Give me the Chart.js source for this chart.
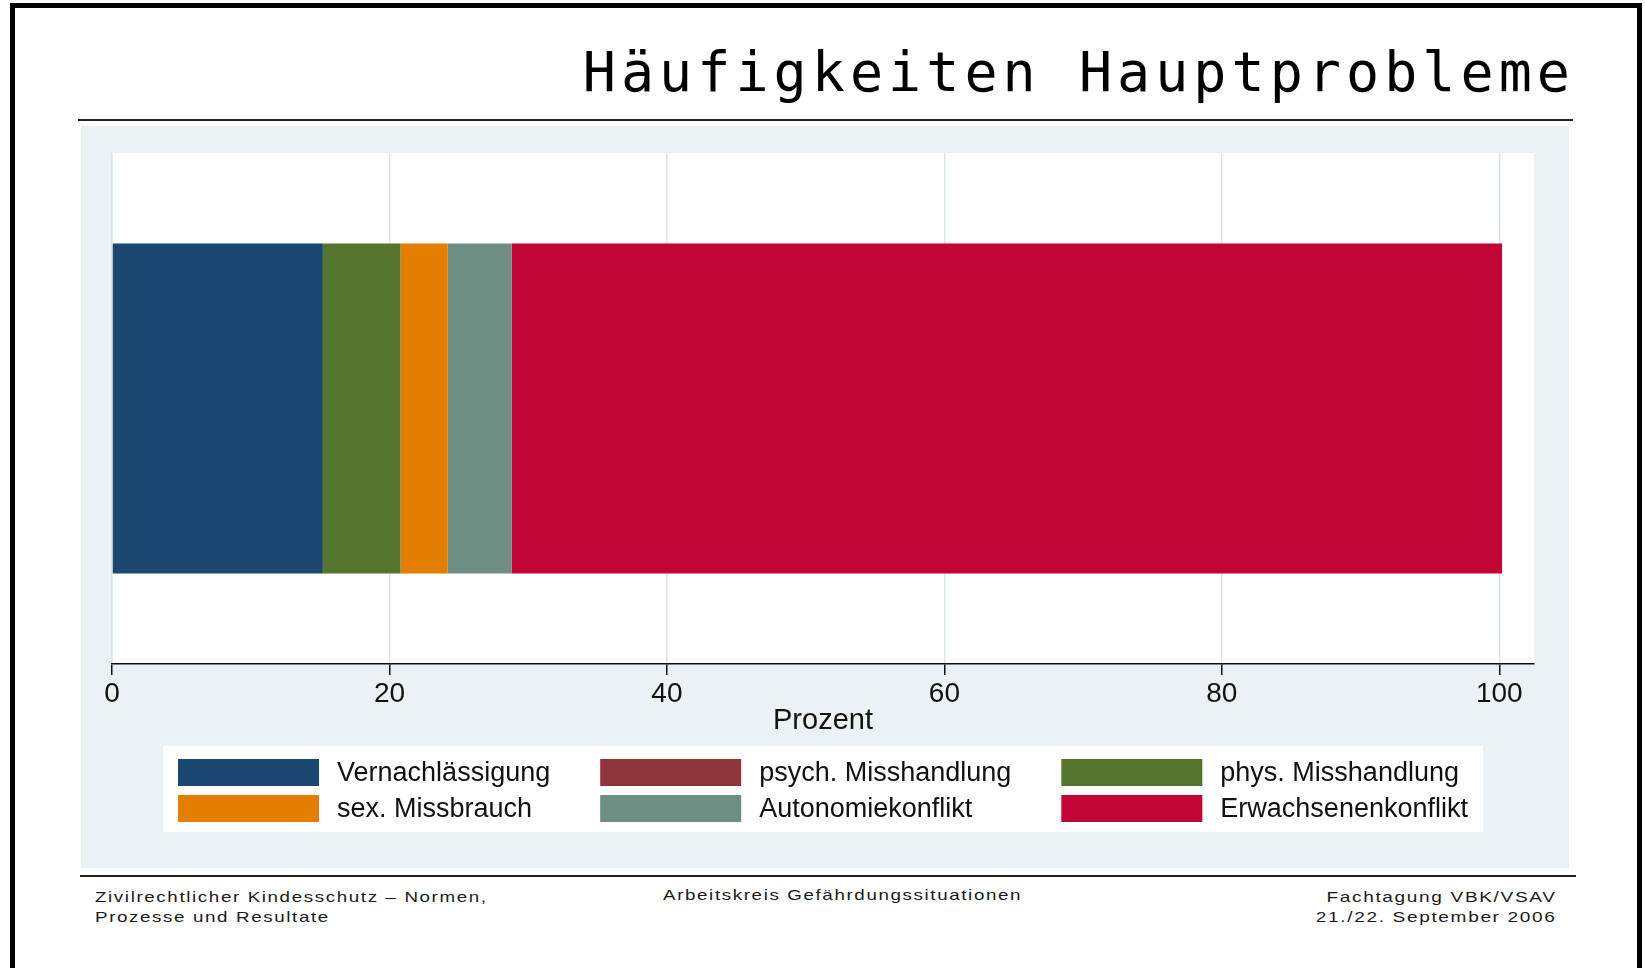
<!DOCTYPE html>
<html>
<head>
<meta charset="utf-8">
<script src="https://cdn.jsdelivr.net/npm/chart.js@4.4.0/dist/chart.umd.min.js"></script>
<style>
html,body{margin:0;padding:0;background:#fff;width:1645px;height:968px;overflow:hidden;position:relative;font-family:"Liberation Sans",Arial,sans-serif;}
#frame{position:absolute;left:10px;top:3px;width:1632px;height:1000px;box-sizing:border-box;border:5px solid #000;border-bottom:none;}
#title{position:absolute;right:70px;top:45px;font-family:"DejaVu Sans Mono",monospace;font-size:55px;line-height:55px;letter-spacing:5.05px;color:#000;white-space:nowrap;}
#titleRule{position:absolute;left:78px;top:119px;width:1495px;height:2px;background:#222;}
#panel{position:absolute;left:81px;top:126px;width:1488px;height:742px;background:#eaf2f3;}
#footRule{position:absolute;left:80px;top:875px;width:1496px;height:2px;background:#222;}
.foot{position:absolute;font-size:15px;line-height:20px;letter-spacing:1.3px;color:#1a1a1a;white-space:nowrap;}
#footL{left:95px;top:887px;transform:scaleX(1.25);transform-origin:left top;}
#footM{left:663px;top:885px;transform:scaleX(1.25);transform-origin:left top;}
#footR{right:88px;top:887px;text-align:right;transform:scaleX(1.27);transform-origin:right top;}
</style>
</head>
<body>
<div id="frame"></div>
<div id="title">Häufigkeiten Hauptprobleme</div>
<div id="titleRule"></div>
<div id="panel"><canvas id="c" width="1488" height="742"></canvas></div>
<div id="footRule"></div>
<div class="foot" id="footL">Zivilrechtlicher Kindesschutz – Normen,<br>Prozesse und Resultate</div>
<div class="foot" id="footM">Arbeitskreis Gefährdungssituationen</div>
<div class="foot" id="footR">Fachtagung VBK/VSAV<br>21./22. September 2006</div>
<script>
// ---- data ----
const categories = ['Hauptprobleme'];
const seriesNames = ['Vernachlässigung', 'psych. Misshandlung', 'phys. Misshandlung', 'sex. Missbrauch', 'Autonomiekonflikt', 'Erwachsenenkonflikt'];
const vernachlaessigung = [15.2];
const psychMisshandlung = [0];
const physMisshandlung = [5.6];
const sexMissbrauch = [3.4];
const autonomiekonflikt = [4.6];
const erwachsenenkonflikt = [71.4];
const xTickValues = [0, 20, 40, 60, 80, 100];
const axisTitle = 'Prozent';
// ---- styling ----
const seriesColors = ['#1a476f', '#90353b', '#55752f', '#e37e00', '#6e8e84', '#c10534'];
const seriesValues = [vernachlaessigung, psychMisshandlung, physMisshandlung, sexMissbrauch, autonomiekonflikt, erwachsenenkonflikt];

const FONT = '"Liberation Sans", Arial, sans-serif';

const plotBg = {
  id: 'plotBg',
  beforeDraw(chart) {
    const a = chart.chartArea, ctx = chart.ctx;
    ctx.save();
    ctx.fillStyle = '#ffffff';
    ctx.fillRect(a.left + 1, a.top, a.right - a.left - 1, a.bottom - a.top);
    ctx.restore();
  }
};

const stataLegend = {
  id: 'stataLegend',
  afterDraw(chart) {
    const ctx = chart.ctx, area = chart.chartArea;
    const ds = chart.data.datasets;
    const cols = 3, swW = 141, swH = 27, gapText = 18, colGap = 50, rowH = 36, padX = 15, padTop = 13, padBottom = 10, bottomGap = 36;
    const rows = Math.ceil(ds.length / cols);
    ctx.save();
    ctx.font = '27px ' + FONT;
    const colTextW = [];
    for (let c = 0; c < cols; c++) {
      let m = 0;
      for (let r = 0; r < rows; r++) {
        const i = r * cols + c;
        if (i < ds.length) m = Math.max(m, ctx.measureText(ds[i].label).width);
      }
      colTextW.push(m);
    }
    const totalW = padX * 2 + colTextW.reduce((s, w) => s + swW + gapText + w, 0) + colGap * (cols - 1);
    const boxH = padTop + padBottom + rowH * (rows - 1) + swH;
    const x0 = (area.left + area.right) / 2 - totalW / 2;
    const y0 = chart.height - bottomGap - boxH;
    ctx.fillStyle = '#ffffff';
    ctx.fillRect(x0, y0, totalW, boxH);
    let cx = x0 + padX;
    for (let c = 0; c < cols; c++) {
      for (let r = 0; r < rows; r++) {
        const i = r * cols + c;
        if (i >= ds.length) continue;
        const sy = y0 + padTop + r * rowH;
        ctx.fillStyle = ds[i].backgroundColor;
        ctx.fillRect(cx, sy, swW, swH);
        ctx.fillStyle = '#111';
        ctx.textBaseline = 'middle';
        ctx.textAlign = 'left';
        ctx.fillText(ds[i].label, cx + swW + gapText, sy + swH / 2 + 1);
      }
      cx += swW + gapText + colTextW[c] + colGap;
    }
    ctx.restore();
  }
};

new Chart(document.getElementById('c'), {
  type: 'bar',
  data: {
    labels: categories,
    datasets: seriesNames.map((name, i) => ({
      label: name,
      data: seriesValues[i],
      backgroundColor: seriesColors[i],
      borderWidth: 0,
      barPercentage: 1,
      categoryPercentage: 0.646
    }))
  },
  options: {
    responsive: false,
    animation: false,
    devicePixelRatio: 1,
    indexAxis: 'y',
    layout: { padding: { left: 31, right: 35, top: 27, bottom: 0 } },
    plugins: { legend: { display: false }, tooltip: { enabled: false } },
    scales: {
      x: {
        stacked: true,
        min: 0,
        max: 102.5,
        afterBuildTicks: s => { s.ticks = xTickValues.map(v => ({ value: v })); },
        afterFit: s => { s.height = 204; },
        grid: { color: '#dde7e9', lineWidth: 1.5, tickColor: '#111', tickLength: 11, tickWidth: 1.5 },
        border: { color: '#111', width: 1.5 },
        ticks: { font: { family: FONT, size: 28 }, color: '#111', padding: 2, maxRotation: 0, autoSkip: false },
        title: { display: true, text: axisTitle, font: { family: FONT, size: 29 }, color: '#111', padding: { top: 0, bottom: 130 } }
      },
      y: { stacked: true, display: false }
    }
  },
  plugins: [plotBg, stataLegend]
});
</script>
</body>
</html>
